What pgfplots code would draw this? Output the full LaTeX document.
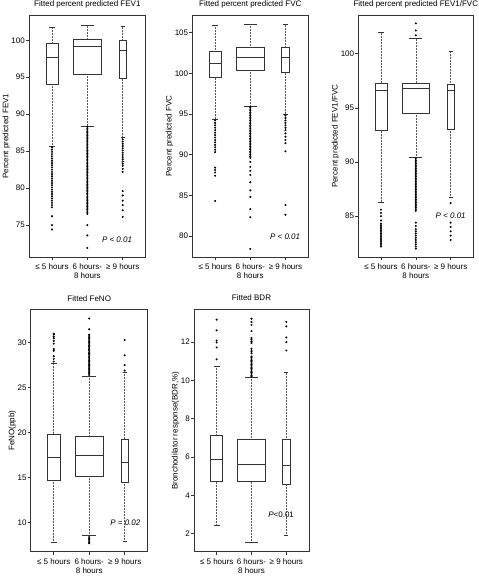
\documentclass[border=0pt]{standalone}
\usepackage{fontspec}
\setmainfont{Liberation Sans}
\usepackage{pgfplots}
\pgfplotsset{compat=1.18}
\usepgfplotslibrary{statistics}
\newcommand\fs{\fontsize{8}{9.2}\selectfont}
\definecolor{boxc}{HTML}{333333}
\pgfplotsset{
  bp/.style={
    scale only axis, height=242pt,
    xmin=0.35, xmax=3.65,
    xtick={1,2,3},
    xticklabels={{≤ 5 hours},{6 hours-\\8 hours},{≥ 9 hours}},
    xticklabel style={align=center},
    yticklabel style={inner sep=1pt},
    tick align=outside, xtick pos=bottom, ytick pos=left,
    major tick length=3pt,
    axis line style={boxc, line width=0.5pt},
    tick style={boxc, line width=0.5pt},
    tick label style={font=\fs},
    /pgf/number format/assume math mode=true,
    every axis title/.style={font=\fs, at={(0.5,1)}, anchor=base, yshift=8.7pt},
    ylabel style={font=\fs},
    ylabel shift=-3pt,
    boxplot/draw direction=y,
    boxplot/every box/.style={draw=boxc, line width=0.5pt},
    boxplot/every median/.style={draw=boxc, line width=0.9pt},
    boxplot/draw/lower whisker/.code={%
      \draw[densely dotted, black!65, line width=0.5pt]
        (boxplot box cs:\pgfplotsboxplotvalue{lower quartile},0.5) --
        (boxplot box cs:\pgfplotsboxplotvalue{lower whisker},0.5);
      \draw[boxc, line width=0.5pt]
        (boxplot whisker cs:\pgfplotsboxplotvalue{lower whisker},0) --
        (boxplot whisker cs:\pgfplotsboxplotvalue{lower whisker},1);
    },
    boxplot/draw/upper whisker/.code={%
      \draw[densely dotted, black!65, line width=0.5pt]
        (boxplot box cs:\pgfplotsboxplotvalue{upper quartile},0.5) --
        (boxplot box cs:\pgfplotsboxplotvalue{upper whisker},0.5);
      \draw[boxc, line width=0.5pt]
        (boxplot whisker cs:\pgfplotsboxplotvalue{upper whisker},0) --
        (boxplot whisker cs:\pgfplotsboxplotvalue{upper whisker},1);
    },
  },
  out/.style={only marks, mark=*, mark size=0.8pt, mark options={draw=black, fill=black}},
}
\begin{document}
\begin{tikzpicture}
\path[use as bounding box] (0,0) rectangle (479pt,576pt);

% ---------------- FEV1
\begin{axis}[bp, width=116.7pt, at={(29pt,318.7pt)}, anchor=south west,
  ymin=70.64, ymax=103.38, ytick={75,80,85,90,95,100},
  title={Fitted percent predicted FEV1}, ylabel={Percent predicted FEV1}]
\addplot[boxplot prepared={draw position=1, lower whisker=85.7, lower quartile=94.05, median=97.66, upper quartile=99.55, upper whisker=101.75, box extend=0.34, whisker extend=0.17}] coordinates {};
\addplot[boxplot prepared={draw position=2, lower whisker=88.4, lower quartile=95.4, median=99.1, upper quartile=100.1, upper whisker=102.1, box extend=0.8, whisker extend=0.38}] coordinates {};
\addplot[boxplot prepared={draw position=3, lower whisker=86.9, lower quartile=94.8, median=98.6, upper quartile=99.95, upper whisker=101.9, box extend=0.2, whisker extend=0.12}] coordinates {};
\addplot[out] coordinates {(1,85.5)(1,85.2)(1,84.9)(1,84.6)(1,84.3)(1,84.0)(1,83.7)(1,83.4)(1,83.1)(1,82.8)(1,82.5)(1,82.2)(1,81.9)(1,81.6)(1,81.3)(1,81.0)(1,80.7)(1,80.4)(1,80.1)(1,79.8)(1,79.5)(1,79.2)(1,78.9)(1,78.6)(1,78.3)(1,78.0)(1,77.7)(1,77.4)(1,76.2)(1,75.0)(1,74.4)};
\addplot[out] coordinates {(2,88.3)(2,88.1)(2,87.9)(2,87.7)(2,87.5)(2,87.3)(2,87.1)(2,86.9)(2,86.7)(2,86.5)(2,86.3)(2,86.1)(2,85.9)(2,85.7)(2,85.5)(2,85.3)(2,85.1)(2,84.9)(2,84.7)(2,84.5)(2,84.3)(2,84.1)(2,83.9)(2,83.7)(2,83.5)(2,83.3)(2,83.1)(2,82.9)(2,82.7)(2,82.5)(2,82.3)(2,82.1)(2,81.9)(2,81.7)(2,81.5)(2,81.3)(2,81.1)(2,80.9)(2,80.7)(2,80.5)(2,80.3)(2,80.1)(2,79.9)(2,79.7)(2,79.5)(2,79.3)(2,79.1)(2,78.9)(2,78.7)(2,78.5)(2,78.3)(2,78.1)(2,77.9)(2,77.7)(2,77.5)(2,77.3)(2,77.1)(2,76.9)(2,76.7)(2,76.5)(2,75.0)(2,73.6)(2,71.9)};
\addplot[out] coordinates {(3,86.6)(3,86.3)(3,86.0)(3,85.7)(3,85.4)(3,85.1)(3,84.8)(3,84.5)(3,84.2)(3,83.9)(3,83.6)(3,83.3)(3,83.0)(3,82.6)(3,82.2)(3,79.6)(3,79.0)(3,78.3)(3,77.7)(3,77.0)(3,76.1)};
\node[font=\fs] at (axis cs:2.84,72.97) {\textit{P < 0.01}};
\end{axis}

% ---------------- FVC
\begin{axis}[bp, width=116pt, at={(192.3pt,318.7pt)}, anchor=south west,
  ymin=77.37, ymax=107.13, ytick={80,85,90,95,100,105},
  title={Fitted percent predicted FVC}, ylabel={Percent predicted FVC}]
\addplot[boxplot prepared={draw position=1, lower whisker=94.4, lower quartile=99.45, median=101.2, upper quartile=102.7, upper whisker=105.9, box extend=0.34, whisker extend=0.17}] coordinates {};
\addplot[boxplot prepared={draw position=2, lower whisker=96.0, lower quartile=100.35, median=102.0, upper quartile=103.2, upper whisker=106.05, box extend=0.8, whisker extend=0.38}] coordinates {};
\addplot[boxplot prepared={draw position=3, lower whisker=95.0, lower quartile=100.07, median=101.9, upper quartile=103.15, upper whisker=106.05, box extend=0.22, whisker extend=0.12}] coordinates {};
\addplot[out] coordinates {(1,94.2)(1,93.9)(1,93.6)(1,93.3)(1,93.0)(1,92.7)(1,92.4)(1,92.1)(1,91.8)(1,91.5)(1,91.2)(1,90.9)(1,90.6)(1,90.3)(1,88.4)(1,88.1)(1,87.8)(1,87.4)(1,84.3)};
\addplot[out] coordinates {(2,95.8)(2,95.6)(2,95.4)(2,95.2)(2,95.0)(2,94.8)(2,94.6)(2,94.4)(2,94.2)(2,94.0)(2,93.8)(2,93.6)(2,93.4)(2,93.2)(2,93.0)(2,92.8)(2,92.6)(2,92.4)(2,92.2)(2,92.0)(2,91.8)(2,91.6)(2,91.4)(2,91.2)(2,91.0)(2,90.8)(2,90.6)(2,90.4)(2,90.2)(2,90.0)(2,89.8)(2,89.6)(2,89.1)(2,88.5)(2,88.0)(2,87.5)(2,86.6)(2,85.6)(2,84.8)(2,83.3)(2,82.3)(2,78.4)};
\addplot[out] coordinates {(3,94.8)(3,94.5)(3,94.2)(3,93.9)(3,93.6)(3,93.3)(3,93.0)(3,92.6)(3,92.2)(3,91.8)(3,91.4)(3,90.4)(3,83.8)(3,82.6)};
\node[font=\fs] at (axis cs:2.99,79.9) {\textit{P < 0.01}};
\end{axis}

% ---------------- FEV1/FVC
\begin{axis}[bp, width=115pt, at={(358.3pt,318.7pt)}, anchor=south west,
  ymin=81.2, ymax=103.55, ytick={85,90,95,100},
  title={Fitted percent predicted FEV1/FVC}, ylabel={Percent predicted FEV1/FVC}]
\addplot[boxplot prepared={draw position=1, lower whisker=86.3, lower quartile=92.9, median=96.57, upper quartile=97.31, upper whisker=102.0, box extend=0.34, whisker extend=0.17}] coordinates {};
\addplot[boxplot prepared={draw position=2, lower whisker=90.46, lower quartile=94.5, median=96.8, upper quartile=97.3, upper whisker=101.42, box extend=0.8, whisker extend=0.38}] coordinates {};
\addplot[boxplot prepared={draw position=3, lower whisker=86.7, lower quartile=93.03, median=96.57, upper quartile=97.2, upper whisker=100.19, box extend=0.22, whisker extend=0.12}] coordinates {};
\addplot[out] coordinates {(1,85.6)(1,85.3)(1,85.0)(1,84.6)(1,84.3)(1,84.15)(1,84.0)(1,83.85)(1,83.7)(1,83.55)(1,83.4)(1,83.25)(1,83.1)(1,82.95)(1,82.8)(1,82.65)(1,82.5)(1,82.35)(1,82.2)};
\addplot[out] coordinates {(2,101.7)(2,102.15)(2,102.8)(2,90.3)(2,90.15)(2,90.0)(2,89.85)(2,89.7)(2,89.55)(2,89.4)(2,89.25)(2,89.1)(2,88.95)(2,88.8)(2,88.65)(2,88.5)(2,88.35)(2,88.2)(2,88.05)(2,87.9)(2,87.75)(2,87.6)(2,87.45)(2,87.3)(2,87.15)(2,87.0)(2,86.85)(2,86.7)(2,86.55)(2,86.4)(2,86.25)(2,86.1)(2,85.95)(2,85.8)(2,85.65)(2,85.5)(2,84.4)(2,84.1)(2,83.8)(2,83.6)(2,83.4)(2,83.2)(2,83.0)(2,82.8)(2,82.6)(2,82.4)(2,82.2)(2,82.0)};
\addplot[out] coordinates {(3,86.2)(3,84.4)(3,84.0)(3,83.6)(3,83.2)(3,82.8)};
\node[font=\fs] at (axis cs:3.0,85.0) {\textit{P < 0.01}};
\end{axis}

% ---------------- FeNO
\begin{axis}[bp, width=117pt, at={(30.7pt,24.3pt)}, anchor=south west,
  ymin=6.72, ymax=33.68, ytick={10,15,20,25,30},
  title={Fitted FeNO}, ylabel={FeNO(ppb)}]
\addplot[boxplot prepared={draw position=1, lower whisker=7.77, lower quartile=14.7, median=17.2, upper quartile=19.85, upper whisker=27.73, box extend=0.34, whisker extend=0.17}] coordinates {};
\addplot[boxplot prepared={draw position=2, lower whisker=8.51, lower quartile=15.13, median=17.47, upper quartile=19.55, upper whisker=26.28, box extend=0.8, whisker extend=0.38}] coordinates {};
\addplot[boxplot prepared={draw position=3, lower whisker=7.84, lower quartile=14.46, median=16.65, upper quartile=19.3, upper whisker=26.73, box extend=0.22, whisker extend=0.12}] coordinates {};
\addplot[out] coordinates {(1,27.9)(1,28.2)(1,28.5)(1,29.1)(1,29.3)(1,29.9)(1,30.2)(1,30.5)(1,30.7)(1,30.9)(1,31.0)};
\addplot[out] coordinates {(2,26.4)(2,26.55)(2,26.7)(2,26.85)(2,27.0)(2,27.15)(2,27.3)(2,27.45)(2,27.6)(2,27.75)(2,27.9)(2,28.05)(2,28.2)(2,28.35)(2,28.5)(2,28.65)(2,28.8)(2,28.95)(2,29.1)(2,29.25)(2,29.4)(2,29.55)(2,29.7)(2,29.85)(2,30.0)(2,30.15)(2,30.3)(2,30.45)(2,30.6)(2,30.75)(2,30.9)(2,31.5)(2,32.7)(2,8.35)(2,8.2)(2,8.05)(2,7.9)(2,7.75)(2,7.65)};
\addplot[out] coordinates {(3,26.9)(3,27.5)(3,28.6)(3,30.3)};
\node[font=\fs] at (axis cs:3.02,10.0) {\textit{P = 0.02}};
\end{axis}

% ---------------- BDR
\begin{axis}[bp, width=115pt, at={(194pt,24.3pt)}, anchor=south west,
  ymin=1.06, ymax=13.69, ytick={2,4,6,8,10,12},
  title={Fitted BDR}, ylabel={Bronchodilator response(BDR,\%)}]
\addplot[boxplot prepared={draw position=1, lower whisker=2.42, lower quartile=4.72, median=5.87, upper quartile=7.12, upper whisker=10.74, box extend=0.34, whisker extend=0.17}] coordinates {};
\addplot[boxplot prepared={draw position=2, lower whisker=1.55, lower quartile=4.72, median=5.59, upper quartile=6.93, upper whisker=10.14, box extend=0.8, whisker extend=0.38}] coordinates {};
\addplot[boxplot prepared={draw position=3, lower whisker=1.93, lower quartile=4.6, median=5.54, upper quartile=6.93, upper whisker=10.43, box extend=0.22, whisker extend=0.12}] coordinates {};
\addplot[out] coordinates {(1,11.1)(1,11.72)(1,11.98)(1,12.08)(1,12.61)(1,13.17)};
\addplot[out] coordinates {(2,10.2)(2,10.27)(2,10.34)(2,10.41)(2,10.48)(2,10.55)(2,10.62)(2,10.69)(2,10.76)(2,10.83)(2,10.9)(2,10.97)(2,11.04)(2,11.11)(2,11.18)(2,11.25)(2,11.42)(2,11.5)(2,11.58)(2,11.66)(2,11.95)(2,12.03)(2,12.12)(2,12.21)(2,12.57)(2,12.9)(2,13.05)(2,13.22)};
\addplot[out] coordinates {(3,11.56)(3,12.0)(3,12.24)(3,12.82)(3,13.05)};
\node[font=\fs] at (axis cs:2.85,2.98) {\textit{P}<0.01};
\end{axis}
\end{tikzpicture}
\end{document}
